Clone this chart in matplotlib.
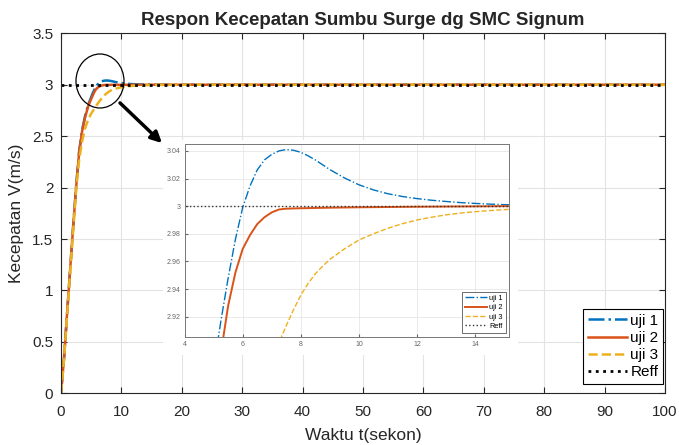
import matplotlib
matplotlib.use('Agg')
import matplotlib.pyplot as plt
from matplotlib.patches import Ellipse, Rectangle, FancyArrowPatch

plt.rcParams['font.family'] = ['Liberation Sans', 'DejaVu Sans']

# Speed response samples (time in s, speed in m/s)
t_uji1 = [0, 0.5, 1, 1.5, 2, 2.5, 3, 3.5, 4, 4.5, 5, 5.17, 5.25, 5.5, 5.75, 6, 6.25,
          6.5, 6.75, 7, 7.25, 7.5, 7.75, 8, 8.25, 8.5, 8.75, 9, 9.25, 9.5, 9.75, 10,
          10.5, 11, 11.5, 12, 12.5, 13, 13.5, 14, 14.5, 15, 16, 20, 100]
v_uji1 = [0, 0.34, 0.77, 1.19, 1.61, 2.01, 2.35, 2.56, 2.70, 2.805, 2.88, 2.906, 2.917,
          2.948, 2.976, 2.999, 3.0145, 3.0262, 3.0335, 3.0375, 3.040, 3.041, 3.0405,
          3.039, 3.0365, 3.0335, 3.030, 3.0265, 3.0235, 3.0205, 3.018, 3.0155, 3.0118,
          3.009, 3.007, 3.0055, 3.0043, 3.0034, 3.0026, 3.002, 3.0015, 3.0011, 3.0006,
          3.0, 3.0]

t_uji2 = [0, 0.5, 1, 1.5, 2, 2.5, 3, 3.5, 4, 4.5, 5, 5.34, 5.5, 5.75, 6, 6.25, 6.5,
          6.75, 7, 7.25, 7.5, 8, 9, 10, 12, 15, 100]
v_uji2 = [0, 0.34, 0.77, 1.19, 1.61, 2.0, 2.34, 2.55, 2.685, 2.79, 2.862, 2.906, 2.928,
          2.952, 2.969, 2.979, 2.987, 2.992, 2.9955, 2.9976, 2.9982, 2.9985, 2.9989,
          2.9992, 2.9996, 3.0, 3.0]

t_uji3 = [0, 0.5, 1, 1.5, 2, 2.5, 3, 3.5, 4, 4.5, 5, 5.5, 6, 6.5, 7, 7.34, 7.5, 7.75,
          8, 8.25, 8.5, 8.75, 9, 9.5, 10, 10.5, 11, 11.5, 12, 12.5, 13, 13.5, 14, 14.5,
          15, 16, 20, 30, 100]
v_uji3 = [0, 0.33, 0.75, 1.16, 1.57, 1.97, 2.27, 2.45, 2.58, 2.66, 2.72, 2.765, 2.81,
          2.85, 2.885, 2.9055, 2.9135, 2.925, 2.9355, 2.944, 2.951, 2.9565, 2.9615,
          2.969, 2.9755, 2.980, 2.984, 2.9873, 2.990, 2.992, 2.9937, 2.995, 2.996,
          2.9968, 2.9975, 2.9985, 2.9998, 3.0, 3.0]

t_reff = [0, 100]
v_reff = [3, 3]

labels = ['uji 1', 'uji 2', 'uji 3', 'Reff']
c_blue, c_red, c_yel = '#0072BD', '#D95319', '#EDB120'

W, H = 679, 445
fig = plt.figure(figsize=(W / 100, H / 100), dpi=100)


def fx(px):
    return px / W


def fy(py):
    return 1 - py / H


# main axes
ax = fig.add_axes([fx(61), fy(393.3), fx(665 - 61), (393.3 - 33.3) / H])
ax.plot(t_uji1, v_uji1, '-.', color=c_blue, lw=1.8, label=labels[0])
ax.plot(t_uji2, v_uji2, '-', color=c_red, lw=1.8, label=labels[1])
ax.plot(t_uji3, v_uji3, '--', color=c_yel, lw=1.8, label=labels[2])
ax.plot(t_reff, v_reff, ':', color='black', lw=2, label=labels[3])
ax.set_xlim(0, 100)
ax.set_ylim(0, 3.5)
ax.set_xticks(range(0, 101, 10))
ax.set_yticks([0, 0.5, 1, 1.5, 2, 2.5, 3, 3.5])
ax.set_yticklabels(['0', '0.5', '1', '1.5', '2', '2.5', '3', '3.5'])
ax.grid(True, color='#e3e3e3', lw=0.8)
ax.tick_params(direction='in', length=4, top=True, right=True, labelsize=11,
               colors='#262626')
ax.tick_params(axis='x', pad=8.5)
ax.tick_params(axis='y', pad=5.5)
for s in ax.spines.values():
    s.set_color('#262626')
    s.set_linewidth(0.8)
ax.set_title('Respon Kecepatan Sumbu Surge dg SMC Signum', fontsize=13.5,
             fontweight='bold', color='#262626', pad=6)
ax.set_xlabel('Waktu t(sekon)', fontsize=12.5, color='#262626', labelpad=6.5)
ax.set_ylabel('Kecepatan V(m/s)', fontsize=12.5, color='#262626', labelpad=6)
leg = ax.legend(loc='lower right', bbox_to_anchor=(0.997, 0.027), borderaxespad=0,
                fontsize=11, fancybox=False, edgecolor='black', framealpha=1,
                handlelength=2.6, handletextpad=0.2, labelspacing=0.2,
                borderpad=0.3)
leg.get_frame().set_linewidth(0.8)

# white backing behind the zoomed view
fig.add_artist(Rectangle((fx(163), fy(355)), fx(355), 215 / H, transform=fig.transFigure,
                         facecolor='white', edgecolor='none', zorder=1))

# zoomed view
axi = fig.add_axes([fx(184.6), fy(336.7), fx(509 - 184.6), (336.7 - 144.3) / H], zorder=2)
axi.plot(t_uji1, v_uji1, '-.', color=c_blue, lw=1.0, label=labels[0])
axi.plot(t_uji2, v_uji2, '-', color=c_red, lw=1.4, label=labels[1])
axi.plot(t_uji3, v_uji3, '--', color=c_yel, lw=1.0, label=labels[2])
axi.plot(t_reff, v_reff, ':', color='#333333', lw=1.0, label=labels[3])
axi.set_xlim(4, 15.17)
axi.set_ylim(2.9055, 3.0448)
axi.set_xticks([4, 6, 8, 10, 12, 14])
axi.set_yticks([2.92, 2.94, 2.96, 2.98, 3.0, 3.02, 3.04])
axi.set_yticklabels(['2.92', '2.94', '2.96', '2.98', '3', '3.02', '3.04'])
axi.grid(True, color='#e6e6e6', lw=0.6)
axi.tick_params(direction='in', length=2, labelsize=5, colors='#666666', pad=3)
for s in axi.spines.values():
    s.set_color('#777777')
    s.set_linewidth(0.7)
li = axi.legend(loc='lower right', bbox_to_anchor=(0.99, 0.02), borderaxespad=0,
                fontsize=5.3, fancybox=False, edgecolor='#555555', framealpha=1,
                handlelength=3, handletextpad=0.3, labelspacing=0.3, borderpad=0.4)
li.get_frame().set_linewidth(0.6)

# circle around the overshoot and pointer to the zoomed view
fig.add_artist(Ellipse((fx(100), fy(81)), fx(48), 54 / H, transform=fig.transFigure,
                       facecolor='none', edgecolor='black', lw=0.9, zorder=3))
fig.add_artist(FancyArrowPatch((fx(118), fy(101)), (fx(164), fy(145)),
                               transform=fig.transFigure, arrowstyle='-|>',
                               mutation_scale=16, color='black', lw=2.5, zorder=3))

fig.savefig('out.png', dpi=100)
